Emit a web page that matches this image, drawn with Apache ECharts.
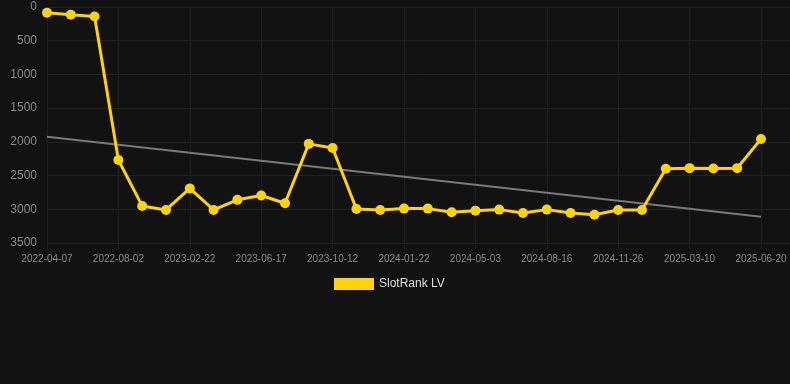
<!DOCTYPE html>
<html><head><meta charset="utf-8">
<script src="https://cdn.jsdelivr.net/npm/echarts@6/dist/echarts.min.js"></script>
<style>html,body{margin:0;padding:0;background:#121212;}#c{width:790px;height:384px;}</style>
</head><body><div id="c"></div>
<script>
const categories = [
  '2022-04-07','2022-05-15','2022-06-24','2022-08-02','2022-10-09','2022-12-16',
  '2023-02-22','2023-04-01','2023-05-09','2023-06-17','2023-07-26','2023-09-03',
  '2023-10-12','2023-11-15','2023-12-19','2024-01-22','2024-02-26','2024-03-30',
  '2024-05-03','2024-06-07','2024-07-12','2024-08-16','2024-09-21','2024-10-24',
  '2024-11-26','2024-12-30','2025-02-03','2025-03-10','2025-04-13','2025-05-17',
  '2025-06-20'
];
const slotRankLV = [
  85, 115, 140, 2270, 2950, 3010, 2690, 3010, 2860, 2795, 2910, 2030,
  2090, 2995, 3010, 2990, 2990, 3045, 3020, 3005, 3055, 3005, 3055, 3080,
  3010, 3010, 2400, 2390, 2395, 2390, 1957
];
const trendStart = 1925;
const trendEnd = 3110;
const yTicks = [0, 500, 1000, 1500, 2000, 2500, 3000, 3500];

const font = 'Arial, Liberation Sans, sans-serif';
const chart = echarts.init(document.getElementById('c'));
chart.setOption({
  backgroundColor: '#121212',
  animation: false,
  grid: [
    {left: 47, right: 29, top: 7, bottom: 141, containLabel: false},
    {left: 47, right: 0, top: 7, bottom: 141, containLabel: false}
  ],
  legend: {
    data: ['SlotRank LV'],
    top: 273,
    left: 329,
    itemWidth: 40, itemHeight: 12,
    icon: 'rect',
    textStyle: {color: '#dddddd', fontSize: 12, fontFamily: font}
  },
  xAxis: [{
    type: 'category',
    gridIndex: 0,
    data: categories,
    boundaryGap: false,
    axisLine: {show: false, onZero: false},
    axisTick: {show: true, interval: 2, length: 6, lineStyle: {color: '#1f1f1f'}},
    axisLabel: {interval: 2, color: '#8a8a8a', fontSize: 10, margin: 11, fontFamily: font},
    splitLine: {show: true, interval: 2, lineStyle: {color: '#1f1f1f'}}
  }, {
    type: 'value',
    gridIndex: 1,
    min: 0, max: 1,
    show: false
  }],
  yAxis: [{
    type: 'value',
    gridIndex: 0,
    inverse: true,
    min: yTicks[0], max: yTicks[yTicks.length - 1], interval: 500,
    axisLine: {show: false},
    axisTick: {show: false},
    axisLabel: {color: '#8a8a8a', fontSize: 12, margin: 10, fontFamily: font,
      formatter: v => String(v)},
    splitLine: {show: false}
  }, {
    type: 'value',
    gridIndex: 1,
    inverse: true,
    min: yTicks[0], max: yTicks[yTicks.length - 1], interval: 500,
    axisLine: {show: false},
    axisTick: {show: false},
    axisLabel: {show: false},
    splitLine: {lineStyle: {color: '#232323'}}
  }],
  series: [
    {
      name: 'Trend',
      type: 'line',
      data: [[categories[0], trendStart], [categories[categories.length - 1], trendEnd]],
      symbol: 'none',
      lineStyle: {color: '#7a7a7a', width: 2},
      z: 1
    },
    {
      name: 'SlotRank LV',
      type: 'line',
      data: slotRankLV,
      symbol: 'circle',
      symbolSize: 10,
      itemStyle: {color: '#FFD20A'},
      lineStyle: {color: '#FFD20A', width: 3},
      z: 2
    }
  ]
});
</script></body></html>
